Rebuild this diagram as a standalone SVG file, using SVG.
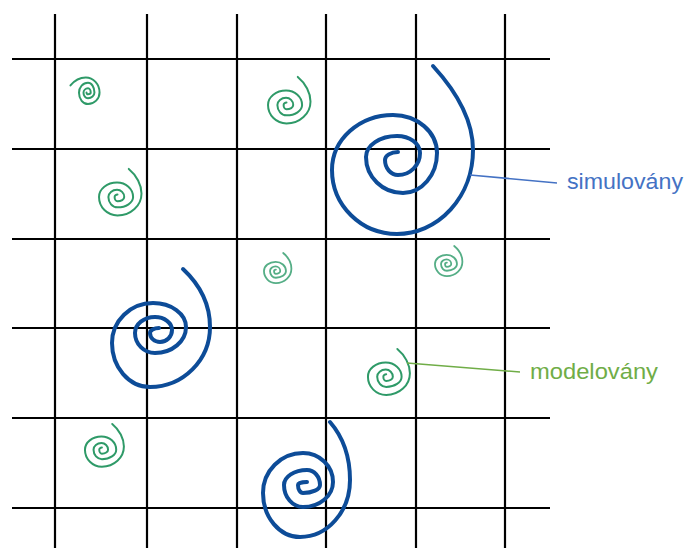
<svg xmlns="http://www.w3.org/2000/svg" xmlns:xlink="http://www.w3.org/1999/xlink" width="687" height="548" viewBox="0 0 687 548">
  <style>
    .grid line { stroke: #000; stroke-width: 2.2; }
    .big { fill: none; stroke: #0d4c98; stroke-width: 4; stroke-linecap: round; stroke-linejoin: round; }
    .small { fill: none; stroke: #2f9a68; stroke-linecap: round; }
    .small.light { stroke: #55ae86; }
    .lead { fill: none; stroke-width: 1.6; }
    .label { font-family: "Liberation Sans", Arial, sans-serif; font-size: 22px; }
  </style>
  <defs>
    <!-- unit spiral, roughly 1 unit in radius, drawn clockwise from the outer tail inward -->
    <path id="curl" d="M0.47,-1.17 C0.8,-0.9 1,-0.5 1,-0.15 A1,0.92 0 0 1 0,0.77 A0.77,0.77 0 0 1 -0.77,0 A0.75,0.6 0 0 1 -0.02,-0.6 A0.67,0.6 0 0 1 0.65,0 A0.65,0.43 0 0 1 0,0.43 A0.38,0.43 0 0 1 -0.38,0 A0.36,0.3 0 0 1 -0.02,-0.3 A0.3,0.3 0 0 1 0.28,0 A0.28,0.18 0 0 1 0,0.18 A0.12,0.18 0 0 1 -0.12,0 A0.12,0.1 0 0 1 0,-0.1"/>
  </defs>

  <g id="grid" class="grid">
    <line x1="55" y1="14" x2="55" y2="548"/>
    <line x1="147" y1="14" x2="147" y2="548"/>
    <line x1="237" y1="14" x2="237" y2="548"/>
    <line x1="326" y1="14" x2="326" y2="548"/>
    <line x1="416" y1="14" x2="416" y2="548"/>
    <line x1="505" y1="14" x2="505" y2="548"/>
    <line x1="12" y1="59" x2="550" y2="59"/>
    <line x1="12" y1="149" x2="550" y2="149"/>
    <line x1="12" y1="239" x2="550" y2="239"/>
    <line x1="12" y1="328" x2="550" y2="328"/>
    <line x1="12" y1="418" x2="550" y2="418"/>
    <line x1="12" y1="508" x2="550" y2="508"/>
  </g>

  <g id="vortex-large-1">
    <path class="big" d="M433,66 C455,90 473,118 473,150 A76,84 0 0 1 397,234 A65,64 0 0 1 332,170 A61,55 0 0 1 393,115 A44,38 0 0 1 437,153 A34,40 0 0 1 403,193 A37,36 0 0 1 366,157 A31,21 0 0 1 397,136 A23,17 0 0 1 420,153 A22,22 0 0 1 398,175 A13,15 0 0 1 385,160 A13,8 0 0 1 398,152"/>
  </g>
  <g id="vortex-large-2">
    <path class="big" d="M183,269 C198,283 210,303 210,327 A60,60 0 0 1 150,387 A38,44 0 0 1 112,343 A41,40 0 0 1 153,303 A33,24 0 0 1 186,327 A31,26 0 0 1 155,353 A20,20 0 0 1 135,333 A20,16 0 0 1 155,317 A17,13 0 0 1 172,330 A12,12 0 0 1 160,342 A10,9 0 0 1 150,333 A9,5 0 0 1 159,328"/>
  </g>
  <g id="vortex-large-3">
    <path class="big" d="M330,422 C343,437 350,457 350,480 A50,57 0 0 1 300,537 A37,44 0 0 1 263,493 A40,40 0 0 1 303,453 A30,29 0 0 1 333,482 A30,25 0 0 1 303,507 A19,22 0 0 1 284,485 A23,15 0 0 1 307,470 A13,15 0 0 1 320,485 A17,8 0 0 1 303,493 A5,8 0 0 1 298,485 A9,3 0 0 1 307,482"/>
  </g>

  <g id="vortex-small-1"><use xlink:href="#curl" class="small" transform="translate(88,92.5) rotate(-90) scale(15)" stroke-width="0.133"/></g>
  <g id="vortex-small-2"><use xlink:href="#curl" class="small" transform="translate(117.5,197) scale(24)" stroke-width="0.083"/></g>
  <g id="vortex-small-3"><use xlink:href="#curl" class="small" transform="translate(286.5,105) scale(24)" stroke-width="0.083"/></g>
  <g id="vortex-small-4"><use xlink:href="#curl" class="small light" transform="translate(275.9,271.1) scale(15.5)" stroke-width="0.116"/></g>
  <g id="vortex-small-5"><use xlink:href="#curl" class="small light" transform="translate(446.9,264.1) scale(15.5)" stroke-width="0.116"/></g>
  <g id="vortex-small-6"><use xlink:href="#curl" class="small" transform="translate(386.2,376.7) scale(23.7)" stroke-width="0.084"/></g>
  <g id="vortex-small-7"><use xlink:href="#curl" class="small" transform="translate(101.9,449.7) scale(22)" stroke-width="0.091"/></g>

  <g id="connectors">
    <line class="lead" x1="470" y1="175" x2="557" y2="183" stroke="#4472c4"/>
    <line class="lead" x1="407" y1="363" x2="520" y2="372" stroke="#70ad47"/>
  </g>

  <g id="label-simulated">
    <text class="label" x="567" y="189" fill="#4472c4" textLength="116" lengthAdjust="spacingAndGlyphs">simulovány</text>
  </g>
  <g id="label-modelled">
    <text class="label" x="530" y="379" fill="#70ad47" textLength="128" lengthAdjust="spacingAndGlyphs">modelovány</text>
  </g>
</svg>
